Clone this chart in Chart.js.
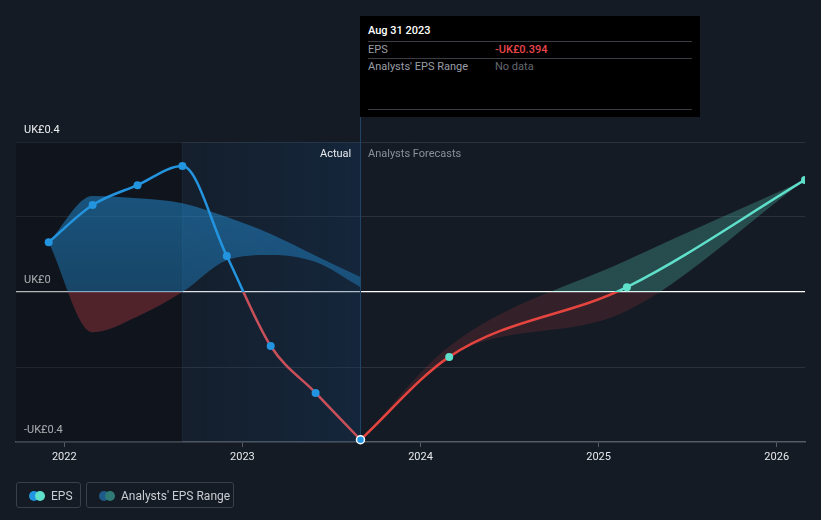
<!DOCTYPE html>
<html lang="en">
<head>
<meta charset="UTF-8">
<title>EPS</title>
<script src="https://cdn.jsdelivr.net/npm/chart.js"></script>
<style>
  html, body { margin: 0; padding: 0; background: #151b25; }
  body { width: 821px; height: 520px; position: relative; overflow: hidden; font-family: Roboto, "Open Sans", sans-serif; }
  #chart { position: absolute; left: 0; top: 0; }
  .tip { position: absolute; left: 360px; top: 16px; width: 340px; height: 101px; background: #000; color: #9a9ea6; font-size: 11px; }
  .tip .row { position: absolute; left: 8px; right: 8px; }
  .tip .sep { position: absolute; left: 8px; right: 8px; height: 1px; background: #3a3d44; }
  .tip .val { position: absolute; left: 127px; }
  .note { position: absolute; top: 147px; font-size: 11px; }
  .legend { position: absolute; top: 482px; height: 26px; border: 1px solid #3a3f4a; border-radius: 3px; color: #c9ccd2; font-size: 12px; line-height: 26px; box-sizing: border-box; }
  .dots { position: absolute; left: 12px; top: 8px; width: 20px; height: 10px; }
  .dots span { position: absolute; top: 0; width: 10px; height: 10px; border-radius: 50%; }
</style>
</head>
<body>
<canvas id="chart" width="821" height="520"></canvas>

<div class="tip">
  <div class="row" style="top:8px;color:#fff;font-weight:500;">Aug 31 2023</div>
  <div class="sep" style="top:25px;"></div>
  <div class="row" style="top:27px;">EPS<span class="val" style="color:#e8464a;font-weight:500;">-UK£0.394</span></div>
  <div class="sep" style="top:42px;"></div>
  <div class="row" style="top:44px;">Analysts' EPS Range<span class="val" style="color:#64686f;">No data</span></div>
  <div class="sep" style="top:93px;"></div>
</div>

<div class="note" style="left:320px;color:#e8eaee;">Actual</div>
<div class="note" style="left:368px;color:#8a8f98;">Analysts Forecasts</div>

<div class="legend" style="left:16px;width:65px;">
  <div class="dots"><span style="left:0;background:#2394df;"></span><span style="left:6px;background:#5fe0cb;"></span></div>
  <span style="position:absolute;left:34px;">EPS</span>
</div>
<div class="legend" style="left:86px;width:148px;">
  <div class="dots"><span style="left:0;background:#1f5a8a;"></span><span style="left:6px;background:#2f7a74;"></span></div>
  <span style="position:absolute;left:34px;">Analysts' EPS Range</span>
</div>

<script>
  // 実績 EPS（四半期）
  const pastDates = ['2021-11-30', '2022-02-28', '2022-05-31', '2022-08-31', '2022-11-30', '2023-02-28', '2023-05-31', '2023-08-31'];
  const pastEps = [0.133, 0.232, 0.285, 0.336, 0.096, -0.144, -0.269, -0.394];
  const pastRangeHigh = [0.133, 0.256, 0.25, 0.237, 0.2, 0.155, 0.097, 0.04];
  const pastRangeLow = [0.133, -0.107, -0.065, 0, 0.085, 0.099, 0.08, 0.013];

  // 予想 EPS（年次）
  const futureDates = ['2023-08-31', '2024-02-29', '2025-02-28', '2026-02-28'];
  const futureEps = [-0.394, -0.173, 0.013, 0.299];
  const futureRangeHigh = [-0.394, -0.145, 0.085, 0.299];
  const futureRangeLow = [-0.394, -0.172, -0.05, 0.299];

  const yearTicks = [2022, 2023, 2024, 2025, 2026];
  const valueTicks = [-0.4, -0.2, 0, 0.2, 0.4];
  const axisStart = '2021-09-24';
  const actualStart = '2022-08-31';
  const lastActual = '2023-08-31';

  // 日付 → 年（小数）
  function toYear(s) {
    const d = new Date(s + 'T00:00:00Z');
    const y = d.getUTCFullYear();
    const start = Date.UTC(y, 0, 1), end = Date.UTC(y + 1, 0, 1);
    return y + (d.getTime() - start) / (end - start);
  }
  const pts = (dates, vals) => dates.map((d, i) => ({ x: toYear(d), y: vals[i] }));

  // ゼロを境に色を切り替えるグラデーション
  function splitAtZero(upTop, upZero, down) {
    return (context) => {
      const chart = context.chart;
      const area = chart.chartArea;
      if (!area) return upTop;
      const y0 = chart.scales.y.getPixelForValue(0);
      const f = Math.min(1, Math.max(0, (y0 - area.top) / (area.bottom - area.top)));
      const g = chart.ctx.createLinearGradient(0, area.top, 0, area.bottom);
      g.addColorStop(0, upTop);
      g.addColorStop(f, upZero);
      g.addColorStop(f, down);
      g.addColorStop(1, down);
      return g;
    };
  }

  // 背景の帯と縦線
  const backdrop = {
    id: 'backdrop',
    beforeDatasetsDraw(chart) {
      const { ctx, chartArea: a, scales: { x } } = chart;
      const xa = x.getPixelForValue(toYear(actualStart));
      const xl = x.getPixelForValue(toYear(lastActual));
      ctx.save();
      ctx.fillStyle = 'rgba(8,10,14,0.3)';
      ctx.fillRect(a.left, a.top, xa - a.left, a.bottom - a.top);
      const g = ctx.createLinearGradient(xa, 0, xl, 0);
      g.addColorStop(0, 'rgba(20,60,100,0.12)');
      g.addColorStop(1, 'rgba(20,60,100,0.35)');
      ctx.fillStyle = g;
      ctx.fillRect(xa, a.top, xl - xa, a.bottom - a.top);
      ctx.strokeStyle = 'rgba(40,70,100,0.25)';
      ctx.lineWidth = 1;
      ctx.beginPath();
      ctx.moveTo(Math.round(xa) + 0.5, a.top);
      ctx.lineTo(Math.round(xa) + 0.5, a.bottom);
      ctx.stroke();
      ctx.strokeStyle = '#1f4466';
      ctx.beginPath();
      ctx.moveTo(Math.round(xl) + 0.5, 117);
      ctx.lineTo(Math.round(xl) + 0.5, a.bottom);
      ctx.stroke();
      ctx.restore();
    }
  };

  const ctx = document.getElementById('chart').getContext('2d');
  const chart = new Chart(ctx, {
    type: 'line',
    data: {
      datasets: [
        {
          label: 'EPS',
          data: pts(pastDates, pastEps),
          borderColor: splitAtZero('#2394df', '#2394df', '#c9505a'),
          borderWidth: 2.5,
          pointRadius: 4,
          pointBackgroundColor: '#2394df',
          pointBorderColor: pastDates.map((d, i) => i === pastDates.length - 1 ? '#ffffff' : '#2394df'),
          pointBorderWidth: pastDates.map((d, i) => i === pastDates.length - 1 ? 1.5 : 0),
          cubicInterpolationMode: 'monotone',
          clip: false,
          fill: false
        },
        {
          label: 'EPS forecast',
          data: pts(futureDates, futureEps),
          borderColor: splitAtZero('#5fe0cb', '#5fe0cb', '#e5443f'),
          borderWidth: 2.5,
          pointRadius: futureDates.map((d, i) => i === 0 ? 0 : 4),
          pointBackgroundColor: '#5fe0cb',
          pointBorderWidth: 0,
          cubicInterpolationMode: 'monotone',
          fill: false
        },
        {
          label: 'past high',
          data: pts(pastDates, pastRangeHigh),
          borderWidth: 0,
          borderColor: 'transparent',
          pointRadius: 0,
          cubicInterpolationMode: 'monotone',
          backgroundColor: splitAtZero('rgba(35,148,223,0.55)', 'rgba(35,148,223,0.38)', 'rgba(200,60,70,0.35)'),
          fill: 3
        },
        {
          label: 'past low',
          data: pts(pastDates, pastRangeLow),
          borderWidth: 0,
          borderColor: 'transparent',
          pointRadius: 0,
          cubicInterpolationMode: 'monotone',
          fill: false
        },
        {
          label: 'future high',
          data: pts(futureDates, futureRangeHigh),
          borderWidth: 0,
          borderColor: 'transparent',
          pointRadius: 0,
          cubicInterpolationMode: 'monotone',
          backgroundColor: splitAtZero('rgba(94,224,204,0.25)', 'rgba(94,224,204,0.25)', 'rgba(230,69,69,0.15)'),
          fill: 5
        },
        {
          label: 'future low',
          data: pts(futureDates, futureRangeLow),
          borderWidth: 0,
          borderColor: 'transparent',
          pointRadius: 0,
          cubicInterpolationMode: 'monotone',
          fill: false
        }
      ]
    },
    options: {
      responsive: false,
      animation: false,
      layout: { padding: { top: 142, left: 16, right: 16, bottom: 48 } },
      plugins: { legend: { display: false }, tooltip: { enabled: false } },
      scales: {
        x: {
          type: 'linear',
          min: toYear(axisStart),
          max: toYear(futureDates[futureDates.length - 1]),
          afterBuildTicks: (axis) => { axis.ticks = yearTicks.map(v => ({ value: v })); },
          afterFit: (axis) => { axis.height = 30; },
          border: { color: '#555a64', width: 1.5 },
          grid: { drawOnChartArea: false, color: '#555a64', tickLength: 5 },
          ticks: {
            color: '#e6e8ec',
            font: { family: 'Roboto', size: 11 },
            padding: 4,
            maxRotation: 0,
            callback: (v) => String(v)
          }
        },
        y: {
          min: -0.4,
          max: 0.4,
          afterBuildTicks: (axis) => { axis.ticks = valueTicks.map(v => ({ value: v })); },
          afterFit: (axis) => { axis.width = 0; },
          border: { display: false },
          grid: {
            drawTicks: false,
            color: (c) => c.tick && c.tick.value === 0 ? '#ffffff' : (c.tick && c.tick.value === -0.4 ? 'rgba(0,0,0,0)' : '#2c313b'),
            lineWidth: (c) => c.tick && c.tick.value === 0 ? 1.2 : 1
          },
          ticks: {
            mirror: true,
            padding: 8,
            labelOffset: -12,
            color: '#eef0f3',
            font: { family: 'Roboto', size: 11 },
            callback: (v) => v === 0 ? 'UK£0' : (Math.abs(v) === 0.4 ? (v < 0 ? '-UK£0.4' : 'UK£0.4') : '')
          }
        }
      }
    },
    plugins: [backdrop]
  });
</script>
</body>
</html>
